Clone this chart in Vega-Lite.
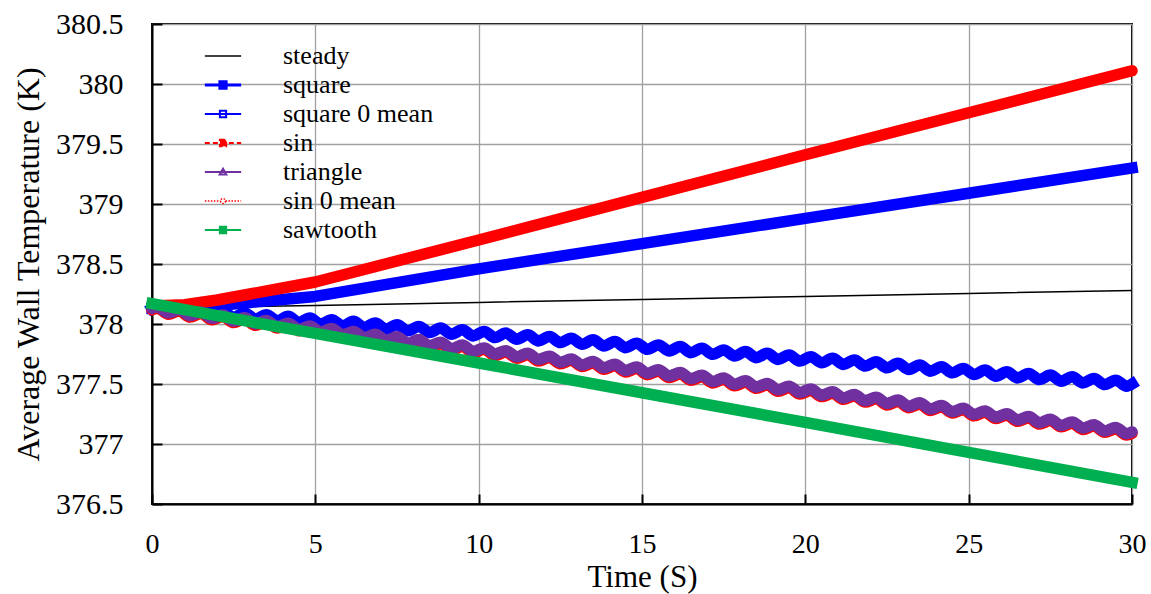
{
  "$schema": "https://vega.github.io/schema/vega-lite/v6.json",
  "width": 980,
  "height": 480,
  "autosize": {"type": "none"},
  "padding": {"left": 152, "top": 24, "right": 19, "bottom": 90},
  "background": "white",
  "datasets": {
    "smooth": [
      {"t": 0, "steady": 378.130, "square": 378.130, "sin": 378.150, "sawtooth": 378.170},
      {"t": 1, "steady": 378.135, "square": 378.135, "sin": 378.160, "sawtooth": 378.120},
      {"t": 2, "steady": 378.140, "square": 378.155, "sin": 378.200, "sawtooth": 378.070},
      {"t": 3, "steady": 378.145, "square": 378.180, "sin": 378.250, "sawtooth": 378.020},
      {"t": 4, "steady": 378.150, "square": 378.205, "sin": 378.300, "sawtooth": 377.970},
      {"t": 5, "steady": 378.155, "square": 378.230, "sin": 378.350, "sawtooth": 377.922},
      {"t": 10, "steady": 378.180, "square": 378.460, "sin": 378.700, "sawtooth": 377.675},
      {"t": 15, "steady": 378.205, "square": 378.670, "sin": 379.055, "sawtooth": 377.427},
      {"t": 20, "steady": 378.230, "square": 378.880, "sin": 379.410, "sawtooth": 377.180},
      {"t": 25, "steady": 378.255, "square": 379.090, "sin": 379.760, "sawtooth": 376.930},
      {"t": 30, "steady": 378.280, "square": 379.300, "sin": 380.110, "sawtooth": 376.680}
    ],
    "oscillating": [
      {"t": 0, "square 0 mean": 378.130, "triangle": 378.130, "sin 0 mean": 378.118},
      {"t": 0.167, "square 0 mean": 378.148, "triangle": 378.144, "sin 0 mean": 378.132},
      {"t": 0.5, "square 0 mean": 378.097, "triangle": 378.093, "sin 0 mean": 378.081},
      {"t": 0.833, "square 0 mean": 378.134, "triangle": 378.121, "sin 0 mean": 378.109},
      {"t": 1.167, "square 0 mean": 378.083, "triangle": 378.070, "sin 0 mean": 378.058},
      {"t": 1.5, "square 0 mean": 378.120, "triangle": 378.099, "sin 0 mean": 378.087},
      {"t": 1.833, "square 0 mean": 378.069, "triangle": 378.047, "sin 0 mean": 378.035},
      {"t": 2.167, "square 0 mean": 378.106, "triangle": 378.075, "sin 0 mean": 378.063},
      {"t": 2.5, "square 0 mean": 378.055, "triangle": 378.024, "sin 0 mean": 378.012},
      {"t": 2.833, "square 0 mean": 378.092, "triangle": 378.052, "sin 0 mean": 378.040},
      {"t": 3.167, "square 0 mean": 378.041, "triangle": 378.001, "sin 0 mean": 377.989},
      {"t": 3.5, "square 0 mean": 378.078, "triangle": 378.030, "sin 0 mean": 378.018},
      {"t": 3.833, "square 0 mean": 378.027, "triangle": 377.978, "sin 0 mean": 377.966},
      {"t": 4.167, "square 0 mean": 378.064, "triangle": 378.007, "sin 0 mean": 377.995},
      {"t": 4.5, "square 0 mean": 378.013, "triangle": 377.956, "sin 0 mean": 377.944},
      {"t": 4.833, "square 0 mean": 378.050, "triangle": 377.984, "sin 0 mean": 377.972},
      {"t": 5.167, "square 0 mean": 377.999, "triangle": 377.933, "sin 0 mean": 377.921},
      {"t": 5.5, "square 0 mean": 378.036, "triangle": 377.962, "sin 0 mean": 377.950},
      {"t": 5.833, "square 0 mean": 377.985, "triangle": 377.910, "sin 0 mean": 377.898},
      {"t": 6.167, "square 0 mean": 378.022, "triangle": 377.938, "sin 0 mean": 377.926},
      {"t": 6.5, "square 0 mean": 377.971, "triangle": 377.887, "sin 0 mean": 377.875},
      {"t": 6.833, "square 0 mean": 378.008, "triangle": 377.915, "sin 0 mean": 377.903},
      {"t": 7.167, "square 0 mean": 377.957, "triangle": 377.864, "sin 0 mean": 377.852},
      {"t": 7.5, "square 0 mean": 377.994, "triangle": 377.893, "sin 0 mean": 377.881},
      {"t": 7.833, "square 0 mean": 377.943, "triangle": 377.841, "sin 0 mean": 377.829},
      {"t": 8.167, "square 0 mean": 377.980, "triangle": 377.870, "sin 0 mean": 377.858},
      {"t": 8.5, "square 0 mean": 377.929, "triangle": 377.819, "sin 0 mean": 377.807},
      {"t": 8.833, "square 0 mean": 377.966, "triangle": 377.847, "sin 0 mean": 377.835},
      {"t": 9.167, "square 0 mean": 377.915, "triangle": 377.795, "sin 0 mean": 377.783},
      {"t": 9.5, "square 0 mean": 377.952, "triangle": 377.824, "sin 0 mean": 377.812},
      {"t": 9.833, "square 0 mean": 377.901, "triangle": 377.772, "sin 0 mean": 377.760},
      {"t": 10.167, "square 0 mean": 377.938, "triangle": 377.801, "sin 0 mean": 377.789},
      {"t": 10.5, "square 0 mean": 377.887, "triangle": 377.750, "sin 0 mean": 377.738},
      {"t": 10.833, "square 0 mean": 377.924, "triangle": 377.778, "sin 0 mean": 377.766},
      {"t": 11.167, "square 0 mean": 377.873, "triangle": 377.727, "sin 0 mean": 377.715},
      {"t": 11.5, "square 0 mean": 377.910, "triangle": 377.756, "sin 0 mean": 377.744},
      {"t": 11.833, "square 0 mean": 377.859, "triangle": 377.704, "sin 0 mean": 377.692},
      {"t": 12.167, "square 0 mean": 377.896, "triangle": 377.732, "sin 0 mean": 377.720},
      {"t": 12.5, "square 0 mean": 377.845, "triangle": 377.681, "sin 0 mean": 377.669},
      {"t": 12.833, "square 0 mean": 377.882, "triangle": 377.709, "sin 0 mean": 377.697},
      {"t": 13.167, "square 0 mean": 377.831, "triangle": 377.658, "sin 0 mean": 377.646},
      {"t": 13.5, "square 0 mean": 377.868, "triangle": 377.687, "sin 0 mean": 377.675},
      {"t": 13.833, "square 0 mean": 377.817, "triangle": 377.635, "sin 0 mean": 377.623},
      {"t": 14.167, "square 0 mean": 377.854, "triangle": 377.664, "sin 0 mean": 377.652},
      {"t": 14.5, "square 0 mean": 377.803, "triangle": 377.613, "sin 0 mean": 377.601},
      {"t": 14.833, "square 0 mean": 377.840, "triangle": 377.641, "sin 0 mean": 377.629},
      {"t": 15.167, "square 0 mean": 377.789, "triangle": 377.590, "sin 0 mean": 377.578},
      {"t": 15.5, "square 0 mean": 377.826, "triangle": 377.619, "sin 0 mean": 377.607},
      {"t": 15.833, "square 0 mean": 377.775, "triangle": 377.567, "sin 0 mean": 377.555},
      {"t": 16.167, "square 0 mean": 377.812, "triangle": 377.595, "sin 0 mean": 377.583},
      {"t": 16.5, "square 0 mean": 377.761, "triangle": 377.544, "sin 0 mean": 377.532},
      {"t": 16.833, "square 0 mean": 377.798, "triangle": 377.572, "sin 0 mean": 377.560},
      {"t": 17.167, "square 0 mean": 377.747, "triangle": 377.521, "sin 0 mean": 377.509},
      {"t": 17.5, "square 0 mean": 377.784, "triangle": 377.550, "sin 0 mean": 377.538},
      {"t": 17.833, "square 0 mean": 377.733, "triangle": 377.498, "sin 0 mean": 377.486},
      {"t": 18.167, "square 0 mean": 377.770, "triangle": 377.527, "sin 0 mean": 377.515},
      {"t": 18.5, "square 0 mean": 377.719, "triangle": 377.476, "sin 0 mean": 377.464},
      {"t": 18.833, "square 0 mean": 377.756, "triangle": 377.504, "sin 0 mean": 377.492},
      {"t": 19.167, "square 0 mean": 377.705, "triangle": 377.452, "sin 0 mean": 377.440},
      {"t": 19.5, "square 0 mean": 377.742, "triangle": 377.481, "sin 0 mean": 377.469},
      {"t": 19.833, "square 0 mean": 377.691, "triangle": 377.429, "sin 0 mean": 377.417},
      {"t": 20.167, "square 0 mean": 377.728, "triangle": 377.458, "sin 0 mean": 377.446},
      {"t": 20.5, "square 0 mean": 377.677, "triangle": 377.407, "sin 0 mean": 377.395},
      {"t": 20.833, "square 0 mean": 377.714, "triangle": 377.435, "sin 0 mean": 377.423},
      {"t": 21.167, "square 0 mean": 377.663, "triangle": 377.384, "sin 0 mean": 377.372},
      {"t": 21.5, "square 0 mean": 377.700, "triangle": 377.413, "sin 0 mean": 377.401},
      {"t": 21.833, "square 0 mean": 377.649, "triangle": 377.361, "sin 0 mean": 377.349},
      {"t": 22.167, "square 0 mean": 377.686, "triangle": 377.389, "sin 0 mean": 377.377},
      {"t": 22.5, "square 0 mean": 377.635, "triangle": 377.338, "sin 0 mean": 377.326},
      {"t": 22.833, "square 0 mean": 377.672, "triangle": 377.366, "sin 0 mean": 377.354},
      {"t": 23.167, "square 0 mean": 377.621, "triangle": 377.315, "sin 0 mean": 377.303},
      {"t": 23.5, "square 0 mean": 377.658, "triangle": 377.344, "sin 0 mean": 377.332},
      {"t": 23.833, "square 0 mean": 377.607, "triangle": 377.292, "sin 0 mean": 377.280},
      {"t": 24.167, "square 0 mean": 377.644, "triangle": 377.321, "sin 0 mean": 377.309},
      {"t": 24.5, "square 0 mean": 377.593, "triangle": 377.270, "sin 0 mean": 377.258},
      {"t": 24.833, "square 0 mean": 377.630, "triangle": 377.298, "sin 0 mean": 377.286},
      {"t": 25.167, "square 0 mean": 377.579, "triangle": 377.247, "sin 0 mean": 377.235},
      {"t": 25.5, "square 0 mean": 377.616, "triangle": 377.276, "sin 0 mean": 377.264},
      {"t": 25.833, "square 0 mean": 377.565, "triangle": 377.224, "sin 0 mean": 377.212},
      {"t": 26.167, "square 0 mean": 377.602, "triangle": 377.252, "sin 0 mean": 377.240},
      {"t": 26.5, "square 0 mean": 377.551, "triangle": 377.201, "sin 0 mean": 377.189},
      {"t": 26.833, "square 0 mean": 377.588, "triangle": 377.229, "sin 0 mean": 377.217},
      {"t": 27.167, "square 0 mean": 377.537, "triangle": 377.178, "sin 0 mean": 377.166},
      {"t": 27.5, "square 0 mean": 377.574, "triangle": 377.207, "sin 0 mean": 377.195},
      {"t": 27.833, "square 0 mean": 377.523, "triangle": 377.155, "sin 0 mean": 377.143},
      {"t": 28.167, "square 0 mean": 377.560, "triangle": 377.184, "sin 0 mean": 377.172},
      {"t": 28.5, "square 0 mean": 377.509, "triangle": 377.133, "sin 0 mean": 377.121},
      {"t": 28.833, "square 0 mean": 377.546, "triangle": 377.161, "sin 0 mean": 377.149},
      {"t": 29.167, "square 0 mean": 377.495, "triangle": 377.109, "sin 0 mean": 377.097},
      {"t": 29.5, "square 0 mean": 377.532, "triangle": 377.138, "sin 0 mean": 377.126},
      {"t": 29.833, "square 0 mean": 377.481, "triangle": 377.086, "sin 0 mean": 377.074},
      {"t": 30, "square 0 mean": 377.500, "triangle": 377.101, "sin 0 mean": 377.089}
    ]
  },
  "encoding": {
    "x": {
      "field": "t",
      "type": "quantitative",
      "scale": {"domain": [0, 30], "nice": false},
      "axis": {
        "title": "Time (S)",
        "values": [0, 5, 10, 15, 20, 25, 30],
        "labelPadding": 36,
        "titlePadding": 4,
        "titleFontSize": 31
      }
    },
    "y": {
      "field": "temp",
      "type": "quantitative",
      "scale": {"domain": [376.5, 380.5], "nice": false, "zero": false},
      "axis": {
        "title": "Average Wall Temperature (K)",
        "values": [376.5, 377, 377.5, 378, 378.5, 379, 379.5, 380, 380.5],
        "format": "~f",
        "labelPadding": 39,
        "labelFontSize": 30,
        "titleFontSize": 32,
        "titlePadding": 10
      }
    },
    "color": {
      "field": "series",
      "type": "nominal",
      "scale": {
        "domain": ["steady", "square", "square 0 mean", "sin", "triangle", "sin 0 mean", "sawtooth"],
        "range": ["#000000", "#0000ff", "#0000ff", "#ff0000", "#7030a0", "#ff0000", "#00b050"]
      },
      "legend": {
        "title": null,
        "orient": "none",
        "legendX": 58,
        "legendY": 19,
        "direction": "vertical",
        "padding": 0,
        "symbolSize": 4356,
        "labelOffset": 47,
        "rowPadding": 3,
        "labelFont": "Liberation Serif",
        "labelFontSize": 26,
        "labelColor": "#000000",
        "labelLimit": 300,
        "encode": {
          "symbols": {
            "update": {
              "shape": {"signal": "datum.value === 'steady' ? 'M-0.55,0H0.55' : datum.value === 'triangle' ? 'M-0.55,0H0.55M0,-0.1L0.1,0.075L-0.1,0.075Z' : datum.value === 'sin 0 mean' ? 'M-0.55,0H-0.075M0.075,0H0.55M0.075,0A0.075,0.075 0 1,1 -0.075,0A0.075,0.075 0 1,1 0.075,0Z' : 'M-0.55,0H0.55M-0.095,-0.095H0.095V0.095H-0.095Z'"},
              "fill": {"signal": "datum.value === 'square' ? '#0000ff' : datum.value === 'sin' ? '#ff0000' : datum.value === 'sawtooth' ? '#00b050' : datum.value === 'steady' ? 'transparent' : '#ffffff'"},
              "stroke": {"scale": "color", "field": "value"},
              "strokeDash": {"signal": "datum.value === 'sin' ? [5, 3] : datum.value === 'sin 0 mean' ? [1.5, 1.5] : [1, 0]"},
              "strokeWidth": {"signal": "datum.value === 'square' ? 3 : (datum.value === 'steady' || datum.value === 'sin 0 mean') ? 1.5 : 2"},
              "opacity": {"value": 1}
            }
          }
        }
      }
    }
  },
  "layer": [
    {
      "data": {"name": "smooth"},
      "transform": [{"fold": ["steady"], "as": ["series", "temp"]}],
      "mark": {"type": "line", "strokeWidth": 1.5}
    },
    {
      "data": {"name": "smooth"},
      "transform": [{"fold": ["square"], "as": ["series", "temp"]}],
      "mark": {"type": "line", "strokeWidth": 11.5, "strokeCap": "square", "strokeJoin": "round"}
    },
    {
      "data": {"name": "oscillating"},
      "transform": [{"fold": ["square 0 mean"], "as": ["series", "temp"]}],
      "mark": {"type": "line", "interpolate": "monotone", "strokeWidth": 11.5, "strokeCap": "square", "strokeJoin": "round"}
    },
    {
      "data": {"name": "smooth"},
      "transform": [{"fold": ["sin"], "as": ["series", "temp"]}],
      "mark": {"type": "line", "strokeWidth": 11.5, "strokeCap": "round", "strokeJoin": "round"}
    },
    {
      "data": {"name": "oscillating"},
      "transform": [{"fold": ["sin 0 mean"], "as": ["series", "temp"]}],
      "mark": {"type": "line", "interpolate": "monotone", "strokeWidth": 11.5, "strokeCap": "round", "strokeJoin": "round"}
    },
    {
      "data": {"name": "oscillating"},
      "transform": [{"fold": ["triangle"], "as": ["series", "temp"]}],
      "mark": {"type": "line", "interpolate": "monotone", "strokeWidth": 11.5, "strokeCap": "round", "strokeJoin": "round"}
    },
    {
      "data": {"name": "smooth"},
      "transform": [{"fold": ["sawtooth"], "as": ["series", "temp"]}],
      "mark": {"type": "line", "strokeWidth": 11.5, "strokeCap": "square", "strokeJoin": "round"}
    }
  ],
  "config": {
    "view": {"stroke": "#000000", "strokeWidth": 2},
    "font": "Liberation Serif",
    "style": {
      "guide-label": {"font": "Liberation Serif", "fill": "#000000"},
      "guide-title": {"font": "Liberation Serif", "fill": "#000000"}
    },
    "legend": {"labelFont": "Liberation Serif"},
    "axis": {
      "labelFont": "Liberation Serif",
      "titleFont": "Liberation Serif",
      "labelFontSize": 28,
      "titleFontSize": 28,
      "titleFontWeight": "normal",
      "labelColor": "#000000",
      "titleColor": "#000000",
      "domainColor": "#000000",
      "domainWidth": 2,
      "tickColor": "#000000",
      "tickWidth": 2,
      "tickSize": -10,
      "gridColor": "#a0a0a0",
      "gridWidth": 1.3,
      "gridOpacity": 1,
      "labelFlush": false,
      "labelOverlap": false
    }
  }
}
